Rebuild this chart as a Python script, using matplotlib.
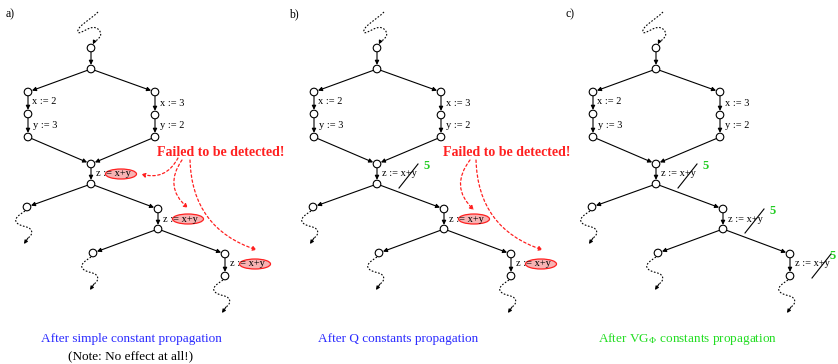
import matplotlib.pyplot as plt
from matplotlib.patches import Circle, Ellipse, PathPatch
from matplotlib.path import Path

plt.rcParams['font.family'] = ['Liberation Serif', 'DejaVu Serif']
plt.rcParams['mathtext.fontset'] = 'stix'

# =====================
# Diagram data (pixel layout of one panel, panel a)
# =====================
panel_offsets = [0, 286, 565]
panel_labels = ["a)", "b)", "c)"]
captions = ["After simple constant propagation",
            "After Q constants propagation",
            r"After VG$_{\Phi}$ constants propagation"]
caption_colors = ["#2b2bff", "#2b2bff", "#22dd22"]
caption_x = [131, 398, 688]

nodes = {
    'top0': (91, 48), 'top1': (91, 69),
    'l1': (28, 92), 'l2': (28, 114), 'l3': (28, 137),
    'r1': (155, 92), 'r2': (155, 115), 'r3': (155, 137),
    'j': (91, 164), 'k': (91, 184),
    'bl': (27, 207), 'br': (158, 209), 'br2': (158, 229),
    'cl': (93, 253), 'cr': (225, 254), 'cr2': (225, 276),
}
edges = [('top0', 'top1'), ('top1', 'l1'), ('top1', 'r1'),
         ('l1', 'l2'), ('l2', 'l3'), ('r1', 'r2'), ('r2', 'r3'),
         ('l3', 'j'), ('r3', 'j'), ('j', 'k'),
         ('k', 'bl'), ('k', 'br'), ('br', 'br2'),
         ('br2', 'cl'), ('br2', 'cr'), ('cr', 'cr2')]
wavy_from = ['bl', 'cl', 'cr2']

assign_labels = ["x := 2", "y := 3", "x := 3", "y := 2"]
assign_pos = [(32, 102), (33, 125), (160, 103), (160, 125)]

z_pos = [(96, 174), (163, 219), (230, 264)]
# 'e' = highlighted (not detected), 's' = replaced by constant 5
z_state = [['e', 'e', 'e'], ['s', 'e', 'e'], ['s', 's', 's']]

failed_x = [157, 443]
failed_arrows = [
    [((178, 158), (141, 174), -0.4), ((182, 160), (188, 208), 0.45), ((190, 160), (257, 250), 0.35)],
    [((470, 160), (474, 210), 0.45), ((476, 160), (543, 250), 0.35)],
]

fig = plt.figure(figsize=(8.38, 3.64), dpi=100)
ax = fig.add_axes([0, 0, 1, 1])
ax.set_xlim(0, 838)
ax.set_ylim(364, 0)
ax.axis('off')

arrow_kw = dict(arrowstyle='-|>', color='black', lw=0.8, shrinkA=3, shrinkB=3, mutation_scale=6)


def dotted_path(verts, codes):
    ax.add_patch(PathPatch(Path(verts, codes), fill=False, lw=0.8,
                           ls=(0, (1.5, 1.5)), color='black'))


C4 = Path.CURVE4
for p, dx in enumerate(panel_offsets):
    ax.text(6 + dx * 0.99, 14, panel_labels[p], fontsize=8.5, va='center')

    # nodes and edges
    for name, (x, y) in nodes.items():
        ax.add_patch(Circle((x + dx, y), 3.8, fc='white', ec='black', lw=0.8, zorder=3))
    for a, b in edges:
        xa, ya = nodes[a]
        xb, yb = nodes[b]
        ax.annotate('', xy=(xb + dx, yb), xytext=(xa + dx, ya), arrowprops=arrow_kw)

    # incoming wavy edge at top
    dotted_path([(98 + dx, 12), (90 + dx, 20), (76 + dx, 27), (78 + dx, 32),
                 (80 + dx, 36), (92 + dx, 22), (99 + dx, 30),
                 (104 + dx, 36), (97 + dx, 40), (93 + dx, 43)],
                [Path.MOVETO, C4, C4, C4, C4, C4, C4, C4, C4, C4])
    ax.annotate('', xy=(91 + dx, 48), xytext=(94 + dx, 42),
                arrowprops=dict(arrowstyle='-|>', color='black', lw=0.8,
                                shrinkA=0, shrinkB=3, mutation_scale=5))

    # outgoing wavy edges
    for n in wavy_from:
        x0, y0 = nodes[n]
        x0 += dx
        dotted_path([(x0 - 2, y0 + 4), (x0 - 8, y0 + 8), (x0 - 14, y0 + 12), (x0 - 10, y0 + 16),
                     (x0 - 6, y0 + 20), (x0 + 2, y0 + 19), (x0 + 4, y0 + 23),
                     (x0 + 6, y0 + 26), (x0 + 4, y0 + 29), (x0 + 1, y0 + 31)],
                    [Path.MOVETO, C4, C4, C4, C4, C4, C4, C4, C4, C4])
        ax.annotate('', xy=(x0 - 3, y0 + 37), xytext=(x0 + 1, y0 + 31),
                    arrowprops=dict(arrowstyle='-|>', color='black', lw=0.8,
                                    shrinkA=0, shrinkB=0, mutation_scale=5))

    for lab, (x, y) in zip(assign_labels, assign_pos):
        ax.text(x + dx, y, lab, fontsize=7.5, va='center', ha='left')

    for st, (x, y) in zip(z_state[p], z_pos):
        x += dx
        if st == 'e':
            ax.add_patch(Ellipse((x + 25, y), 31, 10, fc='#f7b3b3', ec='#ff2020',
                                 lw=0.9, zorder=4))
        ax.text(x, y, "z := x+y", fontsize=7.5, va='center', ha='left', zorder=5)
        if st == 's':
            ax.plot([x + 17, x + 36], [y + 14, y - 10], color='black', lw=0.8, zorder=5)
            ax.text(min(x + 41, 829), y - 8, "5", fontsize=9, fontweight='bold',
                    color='#22cc22', va='center', ha='left', zorder=5)

    ax.text(caption_x[p], 339, captions[p], fontsize=9.5, color=caption_colors[p],
            ha='center', va='center')

ax.text(caption_x[0], 356, "(Note: No effect at all!)", fontsize=9.5, ha='center', va='center')

# =====================
# "Failed to be detected!" callouts
# =====================
for fx, arrs in zip(failed_x, failed_arrows):
    ax.text(fx, 152, "Failed to be detected!", fontsize=10, fontweight='bold',
            color='#ff2020', ha='left', va='center')
    for src, dst, rad in arrs:
        ax.annotate('', xy=dst, xytext=src,
                    arrowprops=dict(arrowstyle='-|>', color='#ff2020', lw=0.9,
                                    ls=(0, (2, 2)), shrinkA=0, shrinkB=0,
                                    mutation_scale=6,
                                    connectionstyle=f'arc3,rad={rad}'))

fig.savefig("out.png", dpi=100)
